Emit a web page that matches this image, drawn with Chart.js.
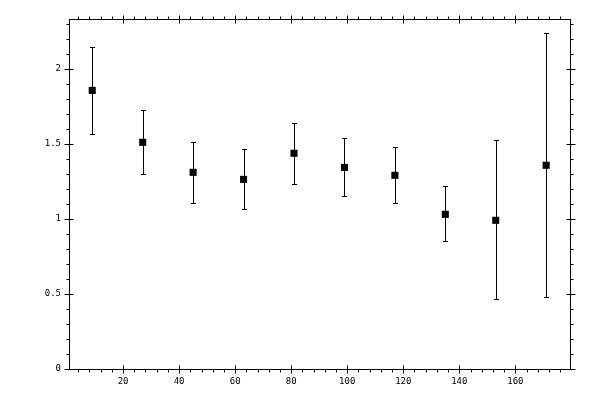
<!DOCTYPE html>
<html>
<head>
<meta charset="utf-8">
<script src="https://cdn.jsdelivr.net/npm/chart.js@4"></script>
<style>
  html, body { margin: 0; padding: 0; background: #fff; }
  #wrap { width: 600px; height: 400px; }
</style>
</head>
<body>
<div id="wrap"><canvas id="chart" width="600" height="400"></canvas></div>
<script>
const binCenters = [9, 27, 45, 63, 81, 99, 117, 135, 153, 171];
const values     = [1.857, 1.511, 1.311, 1.264, 1.438, 1.344, 1.291, 1.031, 0.991, 1.358];
const errHigh    = [2.149, 1.724, 1.511, 1.464, 1.638, 1.538, 1.478, 1.218, 1.524, 2.238];
const errLow     = [1.564, 1.300, 1.104, 1.064, 1.231, 1.151, 1.104, 0.853, 0.465, 0.480];

const xTicks = [20, 40, 60, 80, 100, 120, 140, 160];
const yTicks = [0, 0.5, 1, 1.5, 2];
const xMinorStep = 4;
const yMinorStep = 0.1;

const points = binCenters.map((x, i) => ({ x, y: values[i] }));

// error bars with small caps, drawn under the markers
const errorBars = {
  id: 'errorBars',
  beforeDatasetsDraw(chart) {
    const { ctx, scales: { x, y } } = chart;
    ctx.save();
    ctx.strokeStyle = '#000';
    ctx.lineWidth = 1;
    binCenters.forEach((bx, i) => {
      const px = Math.round(x.getPixelForValue(bx)) + 0.5;
      const top = Math.round(y.getPixelForValue(errHigh[i])) + 0.5;
      const bot = Math.round(y.getPixelForValue(errLow[i])) + 0.5;
      ctx.beginPath();
      ctx.moveTo(px, top); ctx.lineTo(px, bot);
      ctx.moveTo(px - 2.5, top); ctx.lineTo(px + 2.5, top);
      ctx.moveTo(px - 2.5, bot); ctx.lineTo(px + 2.5, bot);
      ctx.stroke();
    });
    ctx.restore();
  }
};

// frame on all four sides with major ticks crossing and minor ticks outside
const frameTicks = {
  id: 'frameTicks',
  afterDraw(chart) {
    const { ctx, chartArea: a, scales: { x, y } } = chart;
    const L = Math.round(a.left) + 0.5, R = Math.round(a.right) + 0.5;
    const T = Math.round(a.top) + 0.5, B = Math.round(a.bottom) + 0.5;
    ctx.save();
    ctx.strokeStyle = '#000';
    ctx.lineWidth = 1;
    ctx.strokeRect(L, T, R - L, B - T);
    ctx.beginPath();
    const xStart = Math.ceil(x.min / xMinorStep) * xMinorStep;
    for (let v = xStart; v <= x.max + 1e-9; v += xMinorStep) {
      const px = Math.round(x.getPixelForValue(v)) + 0.5;
      const major = xTicks.includes(v);
      ctx.moveTo(px, B + (major ? 4 : 3)); ctx.lineTo(px, B - (major ? 4 : 0));
      ctx.moveTo(px, T - (major ? 4 : 3)); ctx.lineTo(px, T + (major ? 4 : 0));
    }
    const nY = Math.floor(y.max / yMinorStep + 1e-9);
    for (let k = 0; k <= nY; k++) {
      const v = +(k * yMinorStep).toFixed(2);
      const py = Math.round(y.getPixelForValue(v)) + 0.5;
      const major = yTicks.includes(v);
      ctx.moveTo(L - (major ? 5 : 3), py); ctx.lineTo(L + (major ? 4 : 0), py);
      ctx.moveTo(R + (major ? 5 : 3), py); ctx.lineTo(R - (major ? 4 : 0), py);
    }
    ctx.stroke();
    ctx.restore();
  }
};

const tickFont = { family: 'DejaVu Sans Mono', size: 9 };

new Chart(document.getElementById('chart'), {
  type: 'scatter',
  data: {
    datasets: [{
      data: points,
      pointStyle: 'rect',
      pointRadius: 5,
      pointHoverRadius: 5,
      backgroundColor: '#000',
      borderColor: '#000',
      borderWidth: 0
    }]
  },
  options: {
    responsive: false,
    animation: false,
    events: [],
    layout: { padding: { top: 19, right: 30, left: 0, bottom: 0 } },
    plugins: { legend: { display: false }, tooltip: { enabled: false } },
    scales: {
      x: {
        type: 'linear',
        min: 0.7,
        max: 179.5,
        afterBuildTicks: s => { s.ticks = xTicks.map(v => ({ value: v })); },
        afterFit: s => { s.height = 31; },
        grid: { display: false, drawTicks: false },
        border: { display: false },
        ticks: { color: '#000', font: tickFont, padding: 7, maxRotation: 0, callback: v => String(v) }
      },
      y: {
        min: 0,
        max: 2.333,
        afterBuildTicks: s => { s.ticks = yTicks.map(v => ({ value: v })); },
        afterFit: s => { s.width = 69; },
        grid: { display: false, drawTicks: false },
        border: { display: false },
        ticks: { color: '#000', font: tickFont, padding: 8, callback: v => String(v) }
      }
    }
  },
  plugins: [errorBars, frameTicks]
});
</script>
</body>
</html>
